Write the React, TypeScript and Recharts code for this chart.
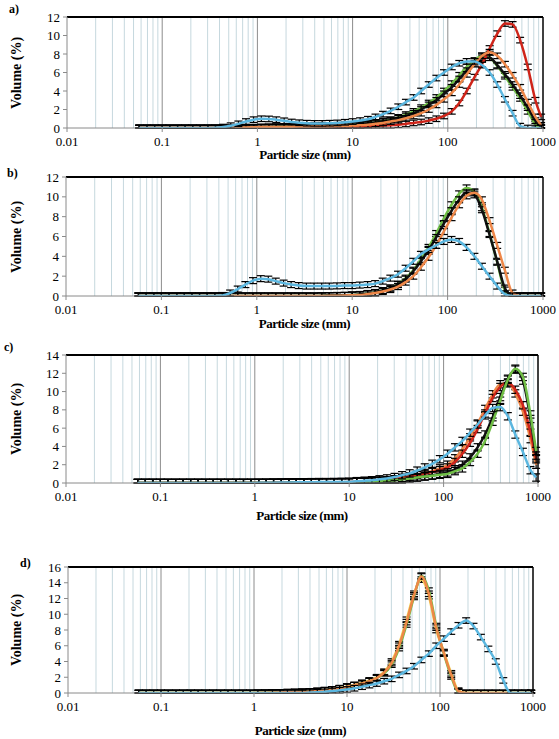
import React from "react";
import { ComposedChart, Line, XAxis, YAxis, ReferenceLine, ErrorBar } from "recharts";

// particle size bins (mm), shared by all four panels
const sizes = [
  0.0575, 0.0692, 0.0832, 0.1, 0.12, 0.145, 0.174, 0.209, 0.251, 0.302,
  0.363, 0.437, 0.525, 0.631, 0.759, 0.912, 1.1, 1.32, 1.58, 1.91,
  2.29, 2.75, 3.31, 3.98, 4.79, 5.75, 6.92, 8.32, 10, 12,
  14.5, 17.4, 20.9, 25.1, 30.2, 36.3, 43.7, 52.5, 63.1, 75.9,
  91.2, 110, 132, 158, 191, 229, 275, 331, 398, 479,
  575, 692, 832, 955,
];

// a)
const aCyan = [
  0, 0, 0, 0, 0, 0, 0, 0, 0, 0,
  0.02, 0.1, 0.25, 0.45, 0.7, 0.9, 1.0, 0.98, 0.9, 0.78,
  0.65, 0.57, 0.52, 0.5, 0.5, 0.52, 0.55, 0.62, 0.7, 0.8,
  0.95, 1.2, 1.5, 1.85, 2.3, 2.8, 3.3, 4.0, 4.7, 5.4,
  6.0, 6.6, 7.0, 7.2, 7.2, 6.8, 6.0, 4.7, 3.1, 1.6,
  0.2, 0, 0, 0,
];
const aGreen = [
  0, 0, 0, 0, 0, 0, 0, 0, 0, 0,
  0, 0, 0, 0.02, 0.05, 0.08, 0.1, 0.12, 0.14, 0.16,
  0.18, 0.2, 0.22, 0.24, 0.26, 0.28, 0.3, 0.33, 0.36, 0.4,
  0.5, 0.6, 0.75, 0.9, 1.15, 1.45, 1.8, 2.2, 2.7, 3.3,
  4.0, 4.8, 5.7, 6.6, 7.3, 7.8, 7.6, 6.7, 5.6, 4.4,
  3.2, 1.8, 0.4, 0,
];
const aOrange = [
  0, 0, 0, 0, 0, 0, 0, 0, 0, 0,
  0, 0, 0, 0.03, 0.06, 0.08, 0.1, 0.1, 0.12, 0.12,
  0.14, 0.15, 0.16, 0.18, 0.2, 0.2, 0.22, 0.24, 0.26, 0.3,
  0.35, 0.45, 0.55, 0.7, 0.85, 1.05, 1.3, 1.6, 2.0, 2.5,
  3.1, 3.8, 4.7, 5.8, 6.9, 7.8, 8.2, 7.8, 6.9, 5.7,
  4.4, 2.8, 1.2, 0.3,
];
const aBlack = [
  0, 0, 0, 0, 0, 0, 0, 0, 0, 0,
  0, 0, 0, 0.02, 0.04, 0.06, 0.08, 0.1, 0.12, 0.14,
  0.16, 0.18, 0.2, 0.22, 0.24, 0.26, 0.28, 0.3, 0.32, 0.35,
  0.45, 0.55, 0.7, 0.85, 1.05, 1.3, 1.6, 2.0, 2.5, 3.0,
  3.7, 4.4, 5.3, 6.2, 7.0, 7.6, 7.6, 6.8, 5.8, 4.7,
  3.5, 2.2, 0.8, 0.1,
];
const aRed = [
  0, 0, 0, 0, 0, 0, 0, 0, 0, 0,
  0, 0, 0, 0, 0, 0, 0.02, 0.03, 0.04, 0.05,
  0.06, 0.06, 0.07, 0.08, 0.08, 0.09, 0.1, 0.1, 0.1, 0.15,
  0.18, 0.22, 0.26, 0.3, 0.36, 0.44, 0.55, 0.65, 0.8, 1.0,
  1.3, 1.8, 2.7, 4.0, 5.5, 6.9, 8.6, 10.2, 11.3, 11.2,
  9.5, 6.6, 3.0, 1.2,
];

// b)
const bCyan = [
  0, 0, 0, 0, 0, 0, 0, 0, 0, 0,
  0, 0.05, 0.3, 0.7, 1.15, 1.55, 1.75, 1.7, 1.5, 1.3,
  1.15, 1.05, 1.0, 1.0, 1.0, 1.0, 1.02, 1.05, 1.05, 1.1,
  1.15, 1.25, 1.5, 1.8, 2.2, 2.8, 3.5, 4.2, 4.7, 5.1,
  5.5, 5.7, 5.5, 4.9, 4.0, 3.0, 2.0, 1.0, 0.2, 0,
  0, 0, 0, 0,
];
const bGreen = [
  0, 0, 0, 0, 0, 0, 0, 0, 0, 0,
  0, 0, 0, 0, 0, 0, 0, 0, 0, 0,
  0, 0, 0, 0, 0.02, 0.04, 0.05, 0.06, 0.1, 0.15,
  0.25, 0.35, 0.55, 0.8, 1.2, 1.8, 2.6, 3.7, 4.9, 6.3,
  7.8, 9.2, 10.3, 10.9, 10.5, 8.9, 6.3, 3.4, 0.6, 0,
  0, 0, 0, 0,
];
const bOrange = [
  0, 0, 0, 0, 0, 0, 0, 0, 0, 0,
  0, 0, 0, 0, 0, 0, 0, 0, 0, 0,
  0, 0, 0, 0, 0, 0.02, 0.03, 0.05, 0.08, 0.1,
  0.2, 0.3, 0.45, 0.65, 0.95, 1.4, 2.0, 2.9, 3.9, 5.1,
  6.5, 7.9, 9.2, 10.1, 10.4, 9.7, 7.6, 5.1, 2.6, 0.3,
  0, 0, 0, 0,
];
const bBlack = [
  0, 0, 0, 0, 0, 0, 0, 0, 0, 0,
  0, 0, 0, 0, 0, 0, 0, 0, 0, 0,
  0, 0, 0, 0, 0.02, 0.04, 0.05, 0.06, 0.1, 0.15,
  0.25, 0.35, 0.55, 0.8, 1.15, 1.7, 2.5, 3.5, 4.6, 5.9,
  7.3, 8.6, 9.7, 10.4, 10.2, 8.7, 6.2, 3.5, 0.8, 0,
  0, 0, 0, 0,
];

// c)
const cCyan = [
  0, 0, 0, 0, 0, 0, 0, 0, 0, 0,
  0, 0, 0, 0, 0, 0, 0.02, 0.03, 0.04, 0.05,
  0.06, 0.07, 0.08, 0.09, 0.1, 0.1, 0.11, 0.12, 0.13, 0.2,
  0.25, 0.3, 0.4, 0.5, 0.65, 0.85, 1.05, 1.35, 1.7, 2.1,
  2.6, 3.2, 3.9, 4.6, 5.5, 6.4, 7.4, 8.2, 8.3, 7.3,
  5.3, 3.4, 1.4, 0.6,
];
const cRed = [
  0, 0, 0, 0, 0, 0, 0, 0, 0, 0,
  0, 0, 0, 0, 0, 0, 0, 0, 0.02, 0.03,
  0.04, 0.05, 0.05, 0.06, 0.07, 0.08, 0.08, 0.09, 0.1, 0.12,
  0.15, 0.2, 0.25, 0.3, 0.4, 0.55, 0.7, 0.85, 1.0, 1.2,
  1.4, 1.7, 2.3, 3.2, 4.4, 5.9, 7.6, 9.3, 10.5, 11.0,
  10.2, 8.5, 5.5, 2.6,
];
const cOrange = [
  0, 0, 0, 0, 0, 0, 0, 0, 0, 0,
  0, 0, 0, 0, 0, 0, 0, 0, 0.02, 0.03,
  0.04, 0.05, 0.05, 0.06, 0.07, 0.08, 0.08, 0.09, 0.1, 0.12,
  0.15, 0.2, 0.25, 0.3, 0.4, 0.55, 0.7, 0.9, 1.1, 1.3,
  1.6, 2.0, 2.7, 3.7, 5.0, 6.5, 8.1, 9.7, 10.8, 10.9,
  9.8, 7.8, 4.8, 2.0,
];
const cGreen = [
  0, 0, 0, 0, 0, 0, 0, 0, 0, 0,
  0, 0, 0, 0, 0, 0, 0, 0, 0, 0,
  0.02, 0.03, 0.03, 0.04, 0.04, 0.05, 0.05, 0.05, 0.05, 0.1,
  0.12, 0.15, 0.2, 0.25, 0.3, 0.4, 0.5, 0.6, 0.7, 0.8,
  0.9, 1.0, 1.3, 1.6, 2.3, 3.2, 4.6, 6.7, 9.0, 11.3,
  12.5, 11.6, 7.5, 3.5,
];
const cBlack = [
  0, 0, 0, 0, 0, 0, 0, 0, 0, 0,
  0, 0, 0, 0, 0, 0, 0, 0, 0, 0,
  0.02, 0.03, 0.03, 0.04, 0.04, 0.05, 0.05, 0.05, 0.05, 0.1,
  0.12, 0.15, 0.2, 0.25, 0.32, 0.42, 0.52, 0.62, 0.75, 0.85,
  1.0, 1.15, 1.5, 2.0, 2.8, 3.9, 5.3, 7.2, 9.4, 11.4,
  12.4, 11.2, 7.0, 3.0,
];

// d)
const dCyan = [
  0, 0, 0, 0, 0, 0, 0, 0, 0, 0,
  0, 0, 0, 0, 0, 0, 0, 0, 0, 0,
  0, 0, 0, 0.05, 0.1, 0.15, 0.25, 0.35, 0.45, 0.6,
  0.8, 1.0, 1.2, 1.5, 1.8, 2.3, 2.8, 3.4, 4.2, 5.0,
  6.0, 6.9, 7.8, 8.6, 9.2, 8.5, 7.1, 5.6, 4.0, 1.6,
  0, 0, 0, 0,
];
const dYellow = [
  0, 0, 0, 0, 0, 0, 0, 0, 0, 0,
  0, 0, 0, 0, 0, 0, 0.02, 0.03, 0.05, 0.07,
  0.1, 0.12, 0.15, 0.2, 0.25, 0.35, 0.45, 0.6, 0.8, 1.0,
  1.3, 1.6, 2.0, 2.7, 4.0, 6.2, 9.3, 12.6, 14.4, 12.3,
  8.0, 5.2, 2.5, 0.3, 0, 0, 0, 0, 0, 0,
  0, 0, 0, 0,
];
const dGreen = [
  0, 0, 0, 0, 0, 0, 0, 0, 0, 0,
  0, 0, 0, 0, 0, 0, 0.02, 0.03, 0.05, 0.07,
  0.1, 0.12, 0.15, 0.2, 0.25, 0.35, 0.45, 0.6, 0.8, 1.0,
  1.2, 1.5, 1.9, 2.5, 3.6, 5.7, 8.7, 12.2, 14.9, 13.0,
  8.5, 5.0, 2.1, 0.1, 0, 0, 0, 0, 0, 0,
  0, 0, 0, 0,
];
const dOrange = [
  0, 0, 0, 0, 0, 0, 0, 0, 0, 0,
  0, 0, 0, 0, 0, 0, 0.02, 0.03, 0.05, 0.07,
  0.1, 0.12, 0.15, 0.2, 0.25, 0.35, 0.45, 0.6, 0.8, 1.0,
  1.2, 1.5, 1.9, 2.6, 3.8, 6.0, 9.0, 12.4, 14.8, 12.6,
  8.3, 5.1, 2.3, 0.2, 0, 0, 0, 0, 0, 0,
  0, 0, 0, 0,
];

const decadeTicks = [0.01, 0.1, 1, 10, 100, 1000];
const majorLines = [0.1, 1, 10, 100];
const minorLines = [
  0.02, 0.03, 0.04, 0.05, 0.06, 0.07, 0.08, 0.09,
  0.2, 0.3, 0.4, 0.5, 0.6, 0.7, 0.8, 0.9,
  2, 3, 4, 5, 6, 7, 8, 9,
  20, 30, 40, 50, 60, 70, 80, 90,
  200, 300, 400, 500, 600, 700, 800, 900,
];

const CYAN = "#5bb7e0";
const GREEN = "#6fbe45";
const ORANGE = "#ee8748";
const BLACK = "#111111";
const RED = "#cf2419";
const YELLOW = "#f2d35a";

const serif = '"Liberation Serif", "Times New Roman", serif';

interface Series {
  key: string;
  values: number[];
  color: string;
}

interface PanelProps {
  letter: string;
  letterX: number;
  letterY: number;
  series: Series[];
  yTicks: number[];
  err: number;
  left: number;
  right: number;
  top: number;
  bottom: number;
  titleGap: number;
}

const Y_AXIS_W = 32;
const X_AXIS_H = 30;
const TOP_PAD = 10;

const Panel: React.FC<PanelProps> = ({
  letter,
  letterX,
  letterY,
  series,
  yTicks,
  err,
  left,
  right,
  top,
  bottom,
  titleGap,
}) => {
  const rows = sizes.map((s, i) => {
    const row: { [key: string]: number } = { size: s };
    series.forEach((se) => {
      row[se.key] = se.values[i];
    });
    return row;
  });
  const yMax = yTicks[yTicks.length - 1];
  const height = bottom - top + TOP_PAD + X_AXIS_H;
  const mid = (top + bottom) / 2;

  return (
    <>
      <div
        style={{
          position: "absolute",
          left: letterX,
          top: letterY,
          fontFamily: serif,
          fontWeight: "bold",
          fontSize: 12,
        }}
      >
        {letter}
      </div>
      <div style={{ position: "absolute", left: 0, top: top - TOP_PAD }}>
        <ComposedChart
          width={559}
          height={height}
          data={rows}
          margin={{ top: TOP_PAD, right: 559 - right, left: left - Y_AXIS_W, bottom: 0 }}
        >
          <XAxis
            dataKey="size"
            type="number"
            scale="log"
            domain={[0.01, 1000]}
            ticks={decadeTicks}
            interval={0}
            allowDataOverflow
            height={X_AXIS_H}
            tickFormatter={(v: number) => String(v)}
            stroke="#8a8a8a"
            tickSize={4}
            tickMargin={5}
            tick={{ fill: "#000", fontSize: 13, fontFamily: serif }}
          />
          <YAxis
            type="number"
            domain={[0, yMax]}
            ticks={yTicks}
            interval={0}
            allowDataOverflow
            width={Y_AXIS_W}
            stroke="#8a8a8a"
            tickSize={4}
            tickMargin={3}
            tick={{ fill: "#000", fontSize: 13, fontFamily: serif }}
          />
          {minorLines.map((v) => (
            <ReferenceLine key={"m" + v} x={v} stroke="#c6d8de" strokeWidth={1} />
          ))}
          {majorLines.map((v) => (
            <ReferenceLine key={"M" + v} x={v} stroke="#8c8c8c" strokeWidth={1} />
          ))}
          <ReferenceLine y={yMax} stroke="#000" strokeWidth={2} />
          <ReferenceLine x={1000} stroke="#000" strokeWidth={1.5} />
          {series.map((se) => (
            <Line
              key={se.key}
              dataKey={se.key}
              type="monotone"
              stroke={se.color}
              strokeWidth={2.5}
              dot={false}
              activeDot={false}
              isAnimationActive={false}
            >
              <ErrorBar
                dataKey={(row: { [key: string]: number }) => [Math.min(err, row[se.key]), err]}
                direction="y"
                width={4}
                stroke="#000"
                strokeWidth={1.2}
                isAnimationActive={false}
              />
            </Line>
          ))}
        </ComposedChart>
      </div>
      <div
        style={{
          position: "absolute",
          left: left,
          width: right - left,
          top: bottom + titleGap - 8,
          textAlign: "center",
          fontFamily: serif,
          fontWeight: "bold",
          fontSize: 13,
          letterSpacing: -0.5,
        }}
      >
        Particle size (mm)
      </div>
      <div
        style={{
          position: "absolute",
          left: 18 - 60,
          top: mid - 9,
          width: 120,
          height: 18,
          textAlign: "center",
          fontFamily: serif,
          fontWeight: "bold",
          fontSize: 14,
          transform: "rotate(-90deg)",
        }}
      >
        Volume (%)
      </div>
    </>
  );
};

const App: React.FC = () => {
  return (
    <div
      style={{
        position: "absolute",
        left: 0,
        top: 0,
        width: 559,
        height: 739,
        background: "#fff",
      }}
    >
      <Panel
        letter="a)"
        letterX={9}
        letterY={2}
        series={[
          { key: "green", values: aGreen, color: GREEN },
          { key: "black", values: aBlack, color: BLACK },
          { key: "red", values: aRed, color: RED },
          { key: "orange", values: aOrange, color: ORANGE },
          { key: "cyan", values: aCyan, color: CYAN },
        ]}
        yTicks={[0, 2, 4, 6, 8, 10, 12]}
        err={0.3}
        left={67}
        right={543}
        top={17}
        bottom={128}
        titleGap={27}
      />
      <Panel
        letter="b)"
        letterX={7}
        letterY={166}
        series={[
          { key: "green", values: bGreen, color: GREEN },
          { key: "black", values: bBlack, color: BLACK },
          { key: "orange", values: bOrange, color: ORANGE },
          { key: "cyan", values: bCyan, color: CYAN },
        ]}
        yTicks={[0, 2, 4, 6, 8, 10, 12]}
        err={0.3}
        left={66}
        right={543}
        top={177}
        bottom={296}
        titleGap={28}
      />
      <Panel
        letter="c)"
        letterX={4}
        letterY={340}
        series={[
          { key: "orange", values: cOrange, color: ORANGE },
          { key: "red", values: cRed, color: RED },
          { key: "black", values: cBlack, color: BLACK },
          { key: "green", values: cGreen, color: GREEN },
          { key: "cyan", values: cCyan, color: CYAN },
        ]}
        yTicks={[0, 2, 4, 6, 8, 10, 12, 14]}
        err={0.4}
        left={66}
        right={538}
        top={355}
        bottom={483}
        titleGap={33}
      />
      <Panel
        letter="d)"
        letterX={20}
        letterY={556}
        series={[
          { key: "yellow", values: dYellow, color: YELLOW },
          { key: "green", values: dGreen, color: GREEN },
          { key: "orange", values: dOrange, color: ORANGE },
          { key: "cyan", values: dCyan, color: CYAN },
        ]}
        yTicks={[0, 2, 4, 6, 8, 10, 12, 14, 16]}
        err={0.35}
        left={68}
        right={533}
        top={567}
        bottom={693}
        titleGap={38}
      />
    </div>
  );
};

export default App;
